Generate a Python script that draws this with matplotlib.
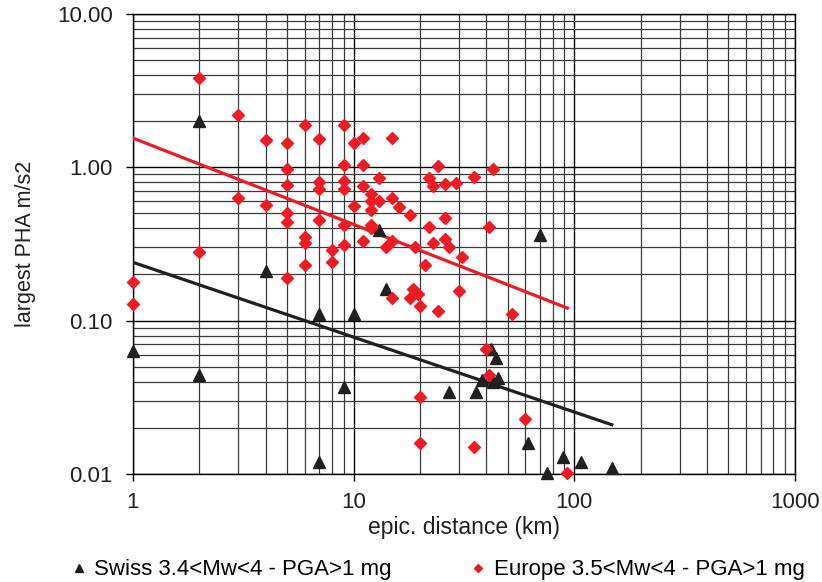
import numpy as np
import matplotlib
matplotlib.use('Agg')
import matplotlib.pyplot as plt
from matplotlib.ticker import LogLocator, FuncFormatter, NullFormatter

plt.rcParams['font.family'] = ['Liberation Sans', 'DejaVu Sans']

# Swiss events (distance km, largest PHA m/s2)
swiss_x = [1, 2, 2, 4, 7, 7, 9, 10, 13, 14, 27, 36, 38, 42, 43, 44, 45,
           62, 70, 75, 89, 107, 148]
swiss_y = [0.063, 2.0, 0.044, 0.21, 0.11, 0.012, 0.037, 0.11, 0.39, 0.16,
           0.034, 0.034, 0.041, 0.065, 0.040, 0.057, 0.042,
           0.016, 0.36, 0.0101, 0.013, 0.012, 0.011]

# European events
europe_x = [1, 1, 2, 2, 3, 3, 4, 4,
            5, 5, 5, 5, 5, 5, 6, 6, 6, 6, 7, 7, 7, 7, 8, 8,
            9, 9, 9, 9, 9, 9, 10, 10, 11, 11, 11, 11,
            12, 12, 12, 12, 12, 13, 13, 14, 15, 15, 15, 15, 16,
            18, 18, 18.5, 19, 19.5, 20, 20, 20, 21, 22, 22, 23, 23, 24, 24,
            26, 26, 26, 27, 29, 30, 31, 35, 35, 40, 41, 41, 43, 52, 60, 93]
europe_y = [0.18, 0.128, 3.8, 0.28, 2.2, 0.63, 1.5, 0.57,
            1.45, 0.97, 0.77, 0.50, 0.44, 0.19, 1.88, 0.35, 0.32, 0.23,
            1.53, 0.80, 0.72, 0.45, 0.29, 0.24,
            1.88, 1.03, 0.81, 0.72, 0.42, 0.31, 1.45, 0.56, 1.55, 1.03, 0.75, 0.33,
            0.67, 0.60, 0.53, 0.42, 0.40, 0.85, 0.60, 0.30, 1.55, 0.63, 0.33, 0.14, 0.55,
            0.49, 0.14, 0.16, 0.30, 0.15, 0.125, 0.032, 0.016, 0.23, 0.85, 0.41, 0.76, 0.32,
            1.02, 0.115, 0.78, 0.47, 0.34, 0.30, 0.79, 0.155, 0.26, 0.87, 0.015,
            0.065, 0.41, 0.044, 0.98, 0.11, 0.023, 0.0101]

# power-law trend lines  y = a * x^b
swiss_fit = (0.24, -0.488)
europe_fit = (1.55, -0.563)

red = '#ED1C24'
dark = '#231F20'
txt = '#231F20'

fig = plt.figure(figsize=(8.22, 5.82), dpi=100)
ax = fig.add_axes([0.1618, 0.1856, 0.8052, 0.7904])

ax.set_xscale('log')
ax.set_yscale('log')
ax.set_xlim(1, 1000)
ax.set_ylim(0.01, 10)

# grid on every decade subdivision
ax.xaxis.set_minor_locator(LogLocator(base=10, subs=np.arange(2, 10)))
ax.yaxis.set_minor_locator(LogLocator(base=10, subs=np.arange(2, 10)))
ax.grid(True, which='major', color='black', lw=1.0)
ax.grid(True, which='minor', color='#3a3a3a', lw=0.9)
ax.set_axisbelow(True)

# trend lines
xs = np.logspace(np.log10(min(swiss_x)), np.log10(max(swiss_x)), 100)
ax.plot(xs, swiss_fit[0] * xs ** swiss_fit[1], color=dark, lw=2.3, zorder=3)
xe = np.logspace(np.log10(min(europe_x)), np.log10(max(europe_x)), 100)
ax.plot(xe, europe_fit[0] * xe ** europe_fit[1], color=red, lw=2.3, zorder=3)

ax.plot(swiss_x, swiss_y, '^', color=dark, ms=8, ls='none', clip_on=False,
        zorder=4, label='Swiss 3.4<Mw<4 - PGA>1 mg')
ax.plot(europe_x, europe_y, 'D', color=red, ms=6, ls='none', clip_on=False,
        zorder=4, label='Europe 3.5<Mw<4 - PGA>1 mg')

ax.yaxis.set_major_formatter(FuncFormatter(lambda v, p: '%.2f' % v))
ax.xaxis.set_major_formatter(FuncFormatter(lambda v, p: '%g' % v))
ax.xaxis.set_minor_formatter(NullFormatter())
ax.yaxis.set_minor_formatter(NullFormatter())
ax.tick_params(which='major', direction='out', length=5, width=1,
               labelsize=16, colors='black', labelcolor=txt)
ax.tick_params(axis='y', which='major', pad=9.5)
ax.tick_params(axis='x', which='major', pad=8)
ax.tick_params(which='minor', length=0)

for s in ax.spines.values():
    s.set_color('black')
    s.set_linewidth(1.0)

ax.set_xlabel('epic. distance (km)', fontsize=16.5, color=txt, labelpad=2)
ax.set_ylabel('largest PHA m/s2', fontsize=15.5, color=txt, labelpad=15)

fig.legend(loc='center', bbox_to_anchor=(0.532, 0.021), ncol=2,
           frameon=False, fontsize=16, handletextpad=0.3, columnspacing=3.5,
           handlelength=0.8, markerscale=0.75, borderpad=0.2)

fig.savefig('out.png', dpi=100)
